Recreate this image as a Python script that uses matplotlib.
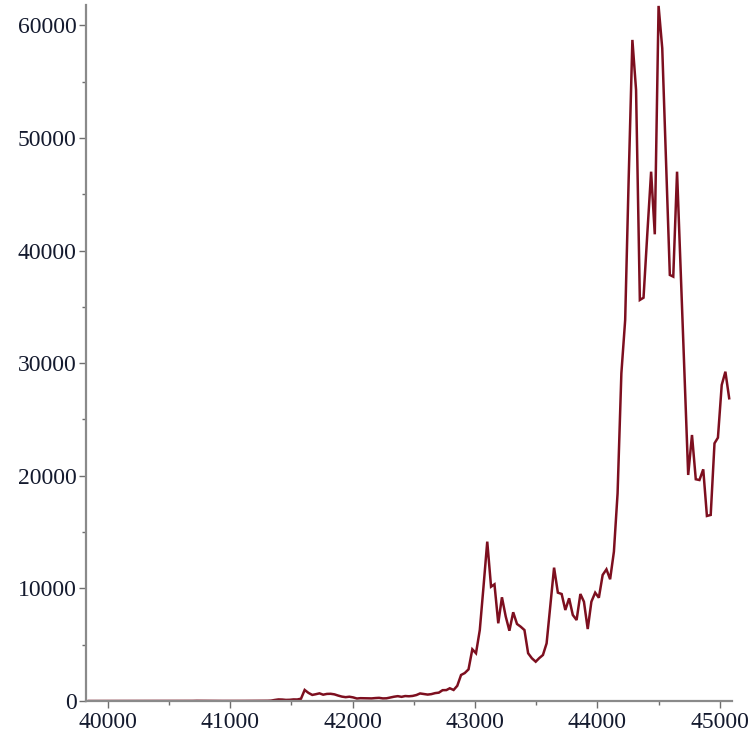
import matplotlib.pyplot as plt
from matplotlib.ticker import MultipleLocator
import pandas as pd

# monthly closing values, Jan 2009 .. May 2023
start_month = "2009-01-31"
values = [
    # 2009
    0, 0, 0, 0, 0, 0, 0, 0, 0, 0, 0, 0,
    # 2010
    0, 0, 0, 0, 0, 0, 0, 0, 0, 0, 0, 0,
    # 2011
    1, 1, 1, 3, 9, 17, 14, 8, 5, 3, 3, 5,
    # 2012
    6, 5, 5, 5, 5, 7, 9, 10, 12, 11, 12, 13,
    # 2013
    20, 33, 93, 139, 129, 97, 106, 141, 133, 204, 980, 720,
    # 2014
    540, 600, 680, 560, 630, 640, 590, 480, 390, 340, 380, 320,
    # 2015
    220, 250, 240, 230, 230, 260, 280, 230, 240, 310, 380, 430,
    # 2016
    370, 440, 420, 450, 530, 670, 620, 570, 610, 700, 740, 960,
    # 2017
    970, 1130, 980, 1350, 2310, 2480, 2810, 4590, 4240, 6300, 10100, 14150,
    # 2018
    10150, 10360, 6900, 9210, 7500, 6240, 7880, 6840, 6600, 6300, 4240, 3790,
    # 2019
    3490, 3800, 4085, 5120, 8500, 11840, 9620, 9500, 8080, 9120, 7640, 7190,
    # 2020
    9500, 8820, 6390, 8820, 9620, 9170, 11190, 11690, 10810, 13260, 18440, 29100,
    # 2021
    33830, 46100, 58700, 54260, 35610, 35810, 41500, 47000, 41440, 61720, 57960, 47900,
    # 2022
    37830, 37680, 47000, 38200, 29100, 20070, 23620, 19690, 19620, 20570, 16430, 16520,
    # 2023
    22880, 23380, 28060, 29240, 26880,
]
x_ticks = [40000, 41000, 42000, 43000, 44000, 45000]
y_ticks = [0, 10000, 20000, 30000, 40000, 50000, 60000]

# month ends as spreadsheet serial day numbers
months = pd.date_range(start_month, periods=len(values), freq="ME")
days = (months - pd.Timestamp("1899-12-30")).days.values

fig = plt.figure(figsize=(7.55, 7.47), dpi=100)
ax = fig.add_axes([85.5 / 755, 46 / 747, (732 - 85.5) / 755, (701 - 5) / 747])

ax.plot(days, values, color="#7d0f1f", linewidth=1.8, solid_joinstyle="miter")

ax.set_xlim(39817, 45100)
ax.set_ylim(0, 61800)

ax.set_xticks(x_ticks)
ax.set_yticks(y_ticks)
ax.xaxis.set_minor_locator(MultipleLocator(500))
ax.yaxis.set_minor_locator(MultipleLocator(5000))

for side in ["top", "right"]:
    ax.spines[side].set_visible(False)
for side in ["left", "bottom"]:
    ax.spines[side].set_color("#8a8a8a")
    ax.spines[side].set_linewidth(1.6)

ax.tick_params(which="major", direction="out", length=5, width=1.0,
               color="#6e6e6e", labelsize=17, labelcolor="#141a2e", pad=1.5)
ax.tick_params(which="minor", direction="out", length=2.8, width=1.0,
               color="#6e6e6e")
ax.tick_params(axis="x", which="major", pad=3)

for lab in ax.get_xticklabels() + ax.get_yticklabels():
    lab.set_fontfamily("Liberation Serif")

fig.savefig("out.png", dpi=100)
